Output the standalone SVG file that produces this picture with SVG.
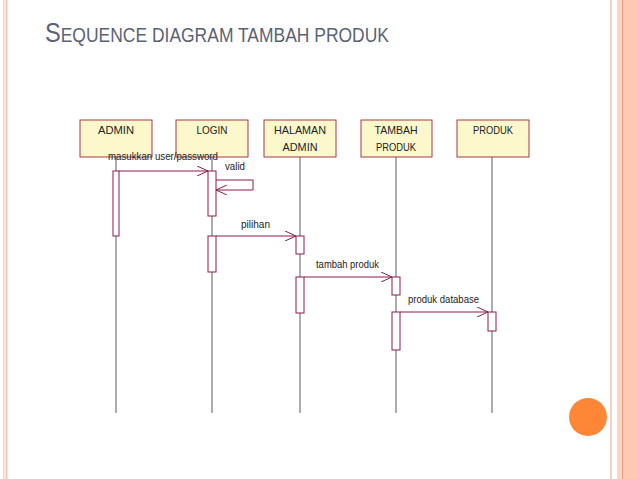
<svg xmlns="http://www.w3.org/2000/svg" width="638" height="479" viewBox="0 0 638 479">
<style>
.box{fill:#fdf8cc;stroke:#a33a4a;stroke-width:1}
.lbl{font-family:"Liberation Sans",Arial,sans-serif;font-size:11.5px;fill:#222;text-anchor:middle}
.msg{font-family:"Liberation Sans",Arial,sans-serif;font-size:10.5px;fill:#222}
.life{stroke:#5a5a5a;stroke-width:1}
.act{fill:#fff;stroke:#8a1c4c;stroke-width:1}
.arr{stroke:#8a1c4c;stroke-width:1;fill:none}
</style>
<defs>
<marker id="open" markerWidth="12" markerHeight="10" refX="11" refY="5" orient="auto" markerUnits="userSpaceOnUse">
<path d="M0,0 L11,5 L0,10" fill="none" stroke="#8a1c4c" stroke-width="1"/>
</marker>
</defs>
<rect width="638" height="479" fill="#fff"/>
<rect x="3" y="0" width="1.5" height="479" fill="#f6d2c4"/>
<rect x="5.5" y="0" width="2" height="479" fill="#f3c6b4"/>
<rect x="610" y="0" width="2" height="479" fill="#f6d0c0"/>
<rect x="617" y="0" width="5" height="479" fill="#fbd4c4"/>
<rect x="622" y="0" width="1.2" height="479" fill="#ee9c80"/>
<rect x="623.2" y="0" width="14.8" height="479" fill="#fdc8b4"/>
<circle cx="588" cy="417" r="19" fill="#fd8637"/>
<text x="45" y="42" font-family="Liberation Sans,Arial,sans-serif" fill="#5b6275" textLength="344" lengthAdjust="spacingAndGlyphs"><tspan font-size="27">S</tspan><tspan font-size="20">EQUENCE DIAGRAM TAMBAH PRODUK</tspan></text>

<g id="lifelines">
<line class="life" x1="116" y1="157" x2="116" y2="413"/>
<line class="life" x1="212" y1="157" x2="212" y2="413"/>
<line class="life" x1="300" y1="157" x2="300" y2="413"/>
<line class="life" x1="396" y1="157" x2="396" y2="413"/>
<line class="life" x1="492" y1="157" x2="492" y2="413"/>
</g>
<g id="admin">
<rect class="box" x="80" y="120" width="72" height="37"/>
<text class="lbl" x="116" y="134" textLength="36" lengthAdjust="spacingAndGlyphs">ADMIN</text>
<rect class="act" x="113" y="171" width="6" height="65"/>
</g>
<g id="login">
<rect class="box" x="176" y="120" width="72" height="37"/>
<text class="lbl" x="212" y="134" textLength="31" lengthAdjust="spacingAndGlyphs">LOGIN</text>
<rect class="act" x="208" y="171" width="8" height="45"/>
<rect class="act" x="208" y="236" width="8" height="36"/>
</g>
<g id="halaman-admin">
<rect class="box" x="264" y="120" width="72" height="37"/>
<text class="lbl" x="300" y="134" textLength="52" lengthAdjust="spacingAndGlyphs">HALAMAN</text>
<text class="lbl" x="300" y="151" textLength="35" lengthAdjust="spacingAndGlyphs">ADMIN</text>
<rect class="act" x="296" y="236" width="8" height="18"/>
<rect class="act" x="296" y="277" width="8" height="36"/>
</g>
<g id="tambah-produk">
<rect class="box" x="361" y="120" width="71" height="37"/>
<text class="lbl" x="396" y="134" textLength="43" lengthAdjust="spacingAndGlyphs">TAMBAH</text>
<text class="lbl" x="396" y="151" textLength="40" lengthAdjust="spacingAndGlyphs">PRODUK</text>
<rect class="act" x="392" y="277" width="8" height="18"/>
<rect class="act" x="392" y="312" width="8" height="38"/>
</g>
<g id="produk">
<rect class="box" x="457" y="120" width="72" height="37"/>
<text class="lbl" x="493" y="134" textLength="40" lengthAdjust="spacingAndGlyphs">PRODUK</text>
<rect class="act" x="488" y="312" width="8" height="19"/>
</g>
<g id="connectors">
<line class="arr" x1="119" y1="171" x2="208" y2="171" marker-end="url(#open)"/>
<polyline class="arr" points="216,180 253,180 253,190 216,190" marker-end="url(#open)"/>
<line class="arr" x1="216" y1="236" x2="296" y2="236" marker-end="url(#open)"/>
<line class="arr" x1="304" y1="277" x2="392" y2="277" marker-end="url(#open)"/>
<line class="arr" x1="400" y1="312" x2="488" y2="312" marker-end="url(#open)"/>
<text class="msg" x="108" y="160" textLength="110" lengthAdjust="spacingAndGlyphs">masukkan user/password</text>
<text class="msg" x="225" y="170" textLength="20" lengthAdjust="spacingAndGlyphs">valid</text>
<text class="msg" x="241" y="228" textLength="29" lengthAdjust="spacingAndGlyphs">pilihan</text>
<text class="msg" x="316" y="268" textLength="63" lengthAdjust="spacingAndGlyphs">tambah produk</text>
<text class="msg" x="408" y="303" textLength="71" lengthAdjust="spacingAndGlyphs">produk database</text>
</g>
</svg>
